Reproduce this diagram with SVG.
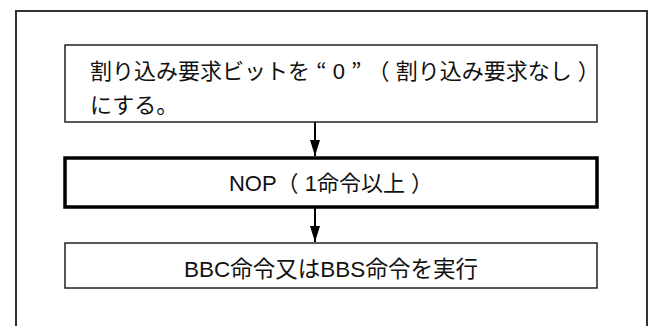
<svg xmlns="http://www.w3.org/2000/svg" width="652" height="326" viewBox="0 0 652 326">
<style>
.box{fill:#fff;stroke:#222;stroke-width:1.5}
.thick{fill:#fff;stroke:#000;stroke-width:3.5}
.t{font-family:"Liberation Sans","Noto Sans CJK JP",sans-serif;font-size:22px;fill:#111}
.fw{font-family:"Noto Sans CJK JP",sans-serif}
.c{text-anchor:middle}
.ln{stroke:#000;stroke-width:2;fill:none}
</style>
<defs>
<marker id="ah" viewBox="0 0 10 10" refX="10" refY="5" markerWidth="16" markerHeight="10" markerUnits="userSpaceOnUse" orient="auto" preserveAspectRatio="none">
<path d="M0,0 L10,5 L0,10 z" fill="#000"/>
</marker>
</defs>
<rect x="16" y="11" width="631" height="330" fill="#fff" stroke="#333" stroke-width="2"/>
<g id="connectors">
<line class="ln" x1="315" y1="122" x2="315" y2="156" marker-end="url(#ah)"/>
<line class="ln" x1="315" y1="207" x2="315" y2="242" marker-end="url(#ah)"/>
</g>
<g id="n1">
<rect class="box" x="65" y="45" width="532" height="77"/>
<text class="t" x="90" y="79" xml:space="preserve">割り込み要求ビットを <tspan class="fw">“</tspan> 0 <tspan class="fw">”</tspan> <tspan class="fw">（</tspan> 割り込み要求なし <tspan class="fw">）</tspan></text>
<text class="t" x="90" y="113">にする。</text>
</g>
<g id="n2">
<rect class="thick" x="65" y="158" width="532" height="49"/>
<text class="t c" x="331" y="191" xml:space="preserve">NOP<tspan class="fw">（</tspan> 1命令以上 <tspan class="fw">）</tspan></text>
</g>
<g id="n3">
<rect class="box" x="65" y="243" width="532" height="45"/>
<text class="t c" x="331" y="277" style="font-size:22.5px">BBC命令又はBBS命令を実行</text>
</g>
</svg>
